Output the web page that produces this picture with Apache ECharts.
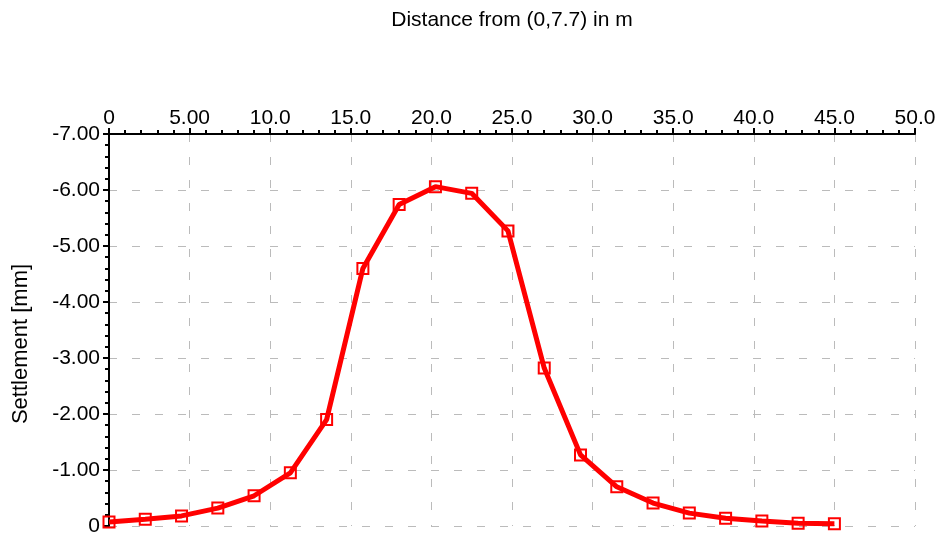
<!DOCTYPE html>
<html>
<head>
<meta charset="utf-8">
<title>Settlement</title>
<script src="https://cdn.jsdelivr.net/npm/echarts@6/dist/echarts.min.js"></script>
<style>
	html, body { margin: 0; padding: 0; background: #fff; }
	#settlementChart { width: 940px; height: 538px; }
</style>
</head>
<body>
<div id="settlementChart"></div>
<script>
var distances = [0, 2.25, 4.5, 6.75, 9, 11.25, 13.5, 15.75, 18, 20.25, 22.5,
	24.75, 27, 29.25, 31.5, 33.75, 36, 38.25, 40.5, 42.75, 45];
var settlements = [-0.07, -0.12, -0.18, -0.32, -0.54, -0.95, -1.90, -4.60, -5.74, -6.06, -5.94,
	-5.27, -2.82, -1.27, -0.70, -0.41, -0.23, -0.14, -0.09, -0.05, -0.04];
var xTickLabels = ['0', '5.00', '10.0', '15.0', '20.0', '25.0', '30.0', '35.0', '40.0', '45.0', '50.0'];
var yTickLabels = ['-7.00', '-6.00', '-5.00', '-4.00', '-3.00', '-2.00', '-1.00', '0'];

var FONT = '"Liberation Sans", Arial, sans-serif';

function getSeriesData() {
	var data = [];
	for (var i = 0; i < distances.length; i++) {
		data.push([distances[i], settlements[i]]);
	}
	return data;
}

var myChart = echarts.init(document.getElementById('settlementChart'));

var chartOptions = {
	animation: false,
	grid: {
		left: 109,
		right: 25,
		top: 134,
		bottom: 12,
		outerBoundsMode: 'none'
	},
	xAxis: {
		type: 'value',
		position: 'top',
		min: 0,
		max: 50,
		interval: 5,
		name: 'Distance from (0,7.7) in m',
		nameLocation: 'middle',
		nameGap: 103,
		nameTextStyle: { color: '#000', fontSize: 21, fontFamily: FONT },
		axisLine: { onZero: false, lineStyle: { color: '#000', width: 2 } },
		axisTick: { length: 6, lineStyle: { color: '#000', width: 2 } },
		minorTick: { show: true, splitNumber: 5, length: 4, lineStyle: { color: '#000', width: 2 } },
		axisLabel: {
			color: '#000',
			fontSize: 21,
			fontFamily: FONT,
			margin: 5,
			formatter: function(v) { return xTickLabels[Math.round(v / 5)]; }
		},
		splitLine: { show: true, lineStyle: { color: '#bbb', width: 1, type: [8, 15] } }
	},
	yAxis: {
		type: 'value',
		inverse: true,
		min: -7,
		max: 0,
		interval: 1,
		name: 'Settlement [mm]',
		nameLocation: 'middle',
		nameRotate: 90,
		nameGap: 77,
		nameTextStyle: { color: '#000', fontSize: 22, fontFamily: FONT, padding: [0, 28, 0, 0] },
		axisLine: { onZero: false, lineStyle: { color: '#000', width: 2 } },
		axisTick: { length: 6, lineStyle: { color: '#000', width: 2 } },
		minorTick: { show: true, splitNumber: 5, length: 4, lineStyle: { color: '#000', width: 2 } },
		axisLabel: {
			color: '#000',
			fontSize: 21,
			fontFamily: FONT,
			margin: 9,
			formatter: function(v) { return yTickLabels[Math.round(v + 7)]; }
		},
		splitLine: { show: true, lineStyle: { color: '#bbb', width: 1, type: [8, 15] } }
	},
	series: [{
		type: 'line',
		data: getSeriesData(),
		symbol: 'rect',
		symbolSize: 11,
		showAllSymbol: true,
		lineStyle: { color: '#ff0000', width: 5 },
		itemStyle: { color: 'transparent', borderColor: '#ff0000', borderWidth: 2 }
	}]
};

myChart.setOption(chartOptions, true);
</script>
</body>
</html>
